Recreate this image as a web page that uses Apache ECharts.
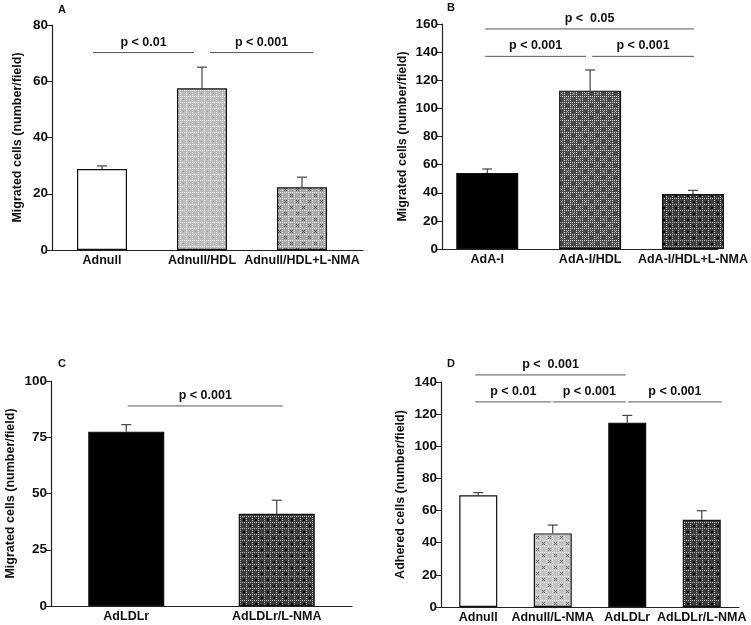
<!DOCTYPE html>
<html><head><meta charset="utf-8">
<script src="https://cdn.jsdelivr.net/npm/echarts@6/dist/echarts.min.js"></script>
<style>html,body{margin:0;padding:0;background:#fff}#c{width:751px;height:625px}</style>
</head><body><div id="c"></div>
<script>
// ---- Data ----
const catsA = ['Adnull', 'Adnull/HDL', 'Adnull/HDL+L-NMA'];
const valsA = [28.8, 57.5, 22.3];
const errsA = [1.1, 7.5, 3.6];
const sigA = [[-0.09, 0.92, 70.2, 'p < 0.01'], [1.08, 2.11, 70.2, 'p < 0.001']];

const catsB = ['AdA-I', 'AdA-I/HDL', 'AdA-I/HDL+L-NMA'];
const valsB = [54, 112.6, 39.1];
const errsB = [2.9, 14.7, 2.6];
const sigB = [[-0.02, 2.01, 156.5, 'p <  0.05'], [-0.02, 0.96, 137, 'p < 0.001'], [1.02, 2.01, 137, 'p < 0.001']];

const catsC = ['AdLDLr', 'AdLDLr/L-NMA'];
const valsC = [77.5, 41.0];
const errsC = [3.1, 6.0];
const sigC = [[0.01, 1.04, 88.9, 'p < 0.001']];

const catsD = ['Adnull', 'Adnull/L-NMA', 'AdLDLr', 'AdLDLr/L-NMA'];
const valsD = [69.5, 45.8, 114.7, 54.3];
const errsD = [1.7, 5.2, 4.5, 5.6];
const sigD = [[-0.04, 1.98, 144.4, 'p <  0.001'], [-0.04, 0.98, 127.6, 'p < 0.01'], [1.0, 1.98, 127.6, 'p < 0.001'], [2.01, 3.27, 127.6, 'p < 0.001']];

const yTicksA = [0, 80, 20], yTicksB = [0, 160, 20], yTicksC = [0, 100, 25], yTicksD = [0, 140, 20];

// ---- Patterns ----
function pattern(bg, dot, accent, kind) {
  const s = 12, cv = document.createElement('canvas');
  cv.width = s; cv.height = s;
  const g = cv.getContext('2d');
  g.fillStyle = bg; g.fillRect(0, 0, s, s);
  g.fillStyle = dot;
  for (let y = 0; y < s; y += 2) for (let x = 0; x < s; x += 2) {
    if ((x % 6 === 0) || (y % 6 === 0)) g.fillRect(x, y, 1, 1);
  }
  g.fillStyle = accent;
  if (kind === 'x') {
    [[2,2],[3,3],[4,4],[4,2],[2,4],[8,8],[9,9],[10,10],[10,8],[8,10]].forEach(p => g.fillRect(p[0], p[1], 1, 1));
  } else if (kind === 'dot') {
    g.fillRect(3, 3, 2, 2); g.fillRect(9, 9, 2, 2);
  } else {
    g.fillRect(3, 3, 1, 1); g.fillRect(9, 9, 1, 1);
  }
  return { image: cv, repeat: 'repeat' };
}
const patLight = pattern('#bcbcbc', '#ffffff', '#888', 'plain');
const patLightX = pattern('#a8a8a8', '#f0f0f0', '#555', 'x');
const patDarkX = pattern('#4a4a4a', '#dddddd', '#aaa', 'x');
const patDarkDot = pattern('#3c3c3c', '#bbbbbb', '#000', 'dot');
const patDLight = pattern('#c4c4c4', '#ffffff', '#666', 'x');

const fillsA = ['#ffffff', patLight, patLightX];
const fillsB = ['#000000', patDarkX, patDarkDot];
const fillsC = ['#000000', patDarkDot];
const fillsD = ['#ffffff', patDLight, '#000000', patDarkDot];

const FONT = '"Liberation Sans", Arial, Helvetica, sans-serif';
const panels = [
  { cats: catsA, vals: valsA, errs: errsA, sig: sigA, fills: fillsA, y: yTicksA, xmin: -0.5, xmax: 2.61, bw: 50,
    grid: { left: 52, top: 25, width: 311, height: 225 }, name: 'Migrated cells (number/field)', nameGap: 28 },
  { cats: catsB, vals: valsB, errs: errsB, sig: sigB, fills: fillsB, y: yTicksB, xmin: -0.44, xmax: 2.24, bw: 62,
    grid: { left: 442, top: 24, width: 278, height: 225 }, name: 'Migrated cells (number/field)', nameGap: 33 },
  { cats: catsC, vals: valsC, errs: errsC, sig: sigC, fills: fillsC, y: yTicksC, xmin: -0.5, xmax: 1.5, bw: 76,
    grid: { left: 51, top: 381, width: 301, height: 225 }, name: 'Migrated cells (number/field)', nameGap: 34 },
  { cats: catsD, vals: valsD, errs: errsD, sig: sigD, fills: fillsD, y: yTicksD, xmin: -0.5, xmax: 3.5, bw: 38,
    grid: { left: 441, top: 382, width: 298, height: 225 }, name: 'Adhered cells (number/field)', nameGap: 34 }
];

const grid = [], xAxis = [], yAxis = [], series = [];
panels.forEach((p, k) => {
  grid.push(p.grid);
  xAxis.push({
    type: 'value', gridIndex: k, min: p.xmin, max: p.xmax,
    axisLine: { show: true, onZero: false, lineStyle: { color: '#222', width: 1.2 } },
    axisTick: { show: false }, splitLine: { show: false },
    axisLabel: {
      customValues: p.cats.map((c, i) => i), formatter: v => p.cats[Math.round(v)] || '',
      fontFamily: FONT, fontWeight: 'bold', fontSize: 12.5, color: '#111', margin: 4
    }
  });
  yAxis.push({
    type: 'value', gridIndex: k, min: p.y[0], max: p.y[1], interval: p.y[2],
    name: p.name, nameLocation: 'middle', nameGap: p.nameGap, nameRotate: 90,
    nameTextStyle: { fontFamily: FONT, fontWeight: 'bold', fontSize: 12.5, color: '#111' },
    axisLine: { show: true, onZero: false, lineStyle: { color: '#222', width: 1.2 } },
    axisTick: { show: true, length: 5, lineStyle: { color: '#222' } },
    splitLine: { show: false },
    axisLabel: { fontFamily: FONT, fontWeight: 'bold', fontSize: 13.5, color: '#111', margin: 4 }
  });
  series.push({
    type: 'bar', xAxisIndex: k, yAxisIndex: k, barWidth: p.bw, z: 2,
    data: p.vals.map((v, i) => ({ value: [i, v], itemStyle: { color: p.fills[i], borderColor: '#111', borderWidth: 1.2 } }))
  });
  series.push({
    type: 'custom', xAxisIndex: k, yAxisIndex: k, z: 1, clip: false,
    data: p.vals.map((v, i) => [i, v, v + p.errs[i]]),
    renderItem: (params, api) => {
      const a = api.coord([api.value(0), api.value(1)]);
      const b = api.coord([api.value(0), api.value(2)]);
      const st = { stroke: '#444', lineWidth: 1.2 };
      return { type: 'group', children: [
        { type: 'line', shape: { x1: a[0], y1: a[1], x2: b[0], y2: b[1] }, style: st },
        { type: 'line', shape: { x1: b[0] - 5, y1: b[1], x2: b[0] + 5, y2: b[1] }, style: st }
      ] };
    }
  });
  series.push({
    type: 'custom', xAxisIndex: k, yAxisIndex: k, z: 3, clip: false,
    data: p.sig.map(s => [s[0], s[1], s[2]]),
    renderItem: (params, api) => {
      const a = api.coord([api.value(0), api.value(2)]);
      const b = api.coord([api.value(1), api.value(2)]);
      const lbl = p.sig[params.dataIndex][3];
      return { type: 'group', children: [
        { type: 'line', shape: { x1: a[0], y1: a[1], x2: b[0], y2: b[1] }, style: { stroke: '#555', lineWidth: 1 } },
        { type: 'text', x: (a[0] + b[0]) / 2, y: a[1] - 4,
          style: { text: lbl, fill: '#111', font: 'bold 12.5px ' + FONT, textAlign: 'center', textVerticalAlign: 'bottom' } }
      ] };
    }
  });
});

const chart = echarts.init(document.getElementById('c'), null, { renderer: 'canvas' });
chart.setOption({
  animation: false,
  backgroundColor: '#ffffff',
  grid, xAxis, yAxis, series,
  graphic: [
    { type: 'text', left: 58, top: 4, style: { text: 'A', font: 'bold 11px ' + FONT, fill: '#111' } },
    { type: 'text', left: 447, top: 2, style: { text: 'B', font: 'bold 11px ' + FONT, fill: '#111' } },
    { type: 'text', left: 58, top: 358, style: { text: 'C', font: 'bold 11px ' + FONT, fill: '#111' } },
    { type: 'text', left: 447, top: 358, style: { text: 'D', font: 'bold 11px ' + FONT, fill: '#111' } }
  ]
});
</script></body></html>
